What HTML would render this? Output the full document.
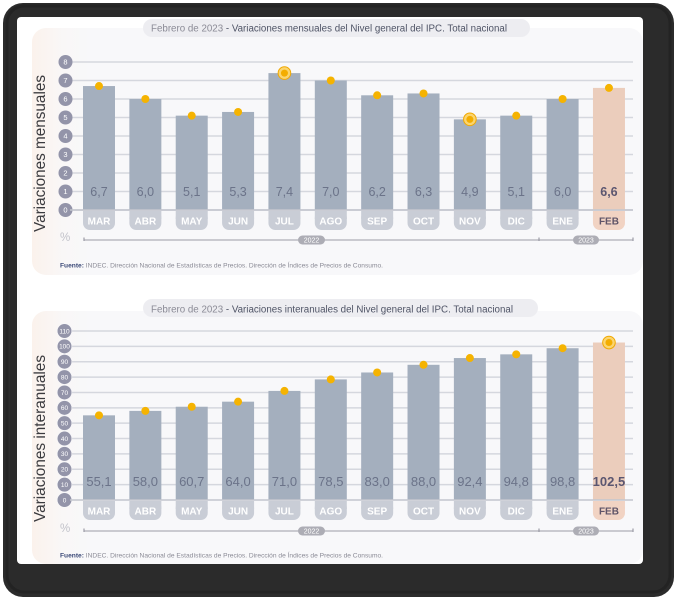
<!DOCTYPE html>
<html><head><meta charset="utf-8">
<style>
html,body{margin:0;padding:0;background:#fff;}
svg{display:block;}
text{font-family:"Liberation Sans",Arial,sans-serif;}
</style></head>
<body>
<svg width="679" height="600" viewBox="0 0 679 600" xmlns="http://www.w3.org/2000/svg">
<defs>
<linearGradient id="pg" x1="0" y1="0" x2="1" y2="0">
<stop offset="0" stop-color="#fbf2ec"/>
<stop offset="0.05" stop-color="#f9f7f7"/>
<stop offset="0.1" stop-color="#f8f8fa"/>
<stop offset="1" stop-color="#f8f8fa"/>
</linearGradient>
</defs>
<!-- frame -->
<rect x="3" y="3" width="671" height="594" rx="20" fill="#2b2b2b"/>
<rect x="7" y="6" width="663" height="586" rx="17" fill="none" stroke="#232323" stroke-width="3"/>
<rect x="17" y="17" width="626" height="547" rx="4" fill="#ffffff"/>

<!-- ===== TOP CHART ===== -->
<rect x="32" y="28" width="611" height="247" rx="14" fill="url(#pg)"/>
<rect x="143" y="19" width="387" height="18" rx="9" fill="#ededf1"/>
<text x="151" y="31.5" font-size="10" textLength="356" lengthAdjust="spacingAndGlyphs"><tspan fill="#8b8b96">Febrero de 2023</tspan><tspan fill="#4f5466"> - Variaciones mensuales del Nivel general del IPC. Total nacional</tspan></text>

<text transform="translate(45,232) rotate(-90)" font-size="15.5" fill="#3a3a3e" textLength="157" lengthAdjust="spacingAndGlyphs">Variaciones mensuales</text>

<g stroke="#d5d7de" stroke-width="1.5">
<line x1="70" y1="62" x2="633" y2="62"/>
<line x1="70" y1="80.5" x2="633" y2="80.5"/>
<line x1="70" y1="99" x2="633" y2="99"/>
<line x1="70" y1="117.5" x2="633" y2="117.5"/>
<line x1="70" y1="136" x2="633" y2="136"/>
<line x1="70" y1="154.5" x2="633" y2="154.5"/>
<line x1="70" y1="173" x2="633" y2="173"/>
<line x1="70" y1="191.5" x2="633" y2="191.5"/>
<line x1="70" y1="210" x2="633" y2="210" stroke="#c3c6ce"/>
</g>
<g fill="#9394a9">
<circle cx="65.5" cy="62" r="7"/><circle cx="65.5" cy="80.5" r="7"/><circle cx="65.5" cy="99" r="7"/>
<circle cx="65.5" cy="117.5" r="7"/><circle cx="65.5" cy="136" r="7"/><circle cx="65.5" cy="154.5" r="7"/>
<circle cx="65.5" cy="173" r="7"/><circle cx="65.5" cy="191.5" r="7"/><circle cx="65.5" cy="210" r="7"/>
</g>
<g fill="#ffffff" font-size="7.5" text-anchor="middle">
<text x="65.5" y="64.7">8</text><text x="65.5" y="83.2">7</text><text x="65.5" y="101.7">6</text>
<text x="65.5" y="120.2">5</text><text x="65.5" y="138.7">4</text><text x="65.5" y="157.2">3</text>
<text x="65.5" y="175.7">2</text><text x="65.5" y="194.2">1</text><text x="65.5" y="212.7">0</text>
</g>

<g fill="#a4afbe">
<rect x="83" y="86.05" width="32" height="123.95"/>
<rect x="129.36" y="99" width="32" height="111"/>
<rect x="175.72" y="115.65" width="32" height="94.35"/>
<rect x="222.08" y="111.95" width="32" height="98.05"/>
<rect x="268.44" y="73.1" width="32" height="136.9"/>
<rect x="314.8" y="80.5" width="32" height="129.5"/>
<rect x="361.16" y="95.3" width="32" height="114.7"/>
<rect x="407.52" y="93.45" width="32" height="116.55"/>
<rect x="453.88" y="119.35" width="32" height="90.65"/>
<rect x="500.24" y="115.65" width="32" height="94.35"/>
<rect x="546.6" y="99" width="32" height="111"/>
</g>
<rect x="592.96" y="87.9" width="32" height="122.1" fill="#ebcdbc"/>
<line x1="70" y1="210" x2="633" y2="210" stroke="#c3c6ce" stroke-width="1.5"/>

<g fill="#f5b301">
<circle cx="99" cy="86.05" r="4"/>
<circle cx="145.36" cy="99" r="4"/>
<circle cx="191.72" cy="115.65" r="4"/>
<circle cx="238.08" cy="111.95" r="4"/>
<circle cx="330.8" cy="80.5" r="4"/>
<circle cx="377.16" cy="95.3" r="4"/>
<circle cx="423.52" cy="93.45" r="4"/>
<circle cx="516.24" cy="115.65" r="4"/>
<circle cx="562.6" cy="99" r="4"/>
<circle cx="608.96" cy="87.9" r="4"/>
</g>
<circle cx="284.44" cy="73.1" r="6.3" fill="#fbd56f" stroke="#f0a800" stroke-width="1"/>
<circle cx="284.44" cy="73.1" r="3.5" fill="#f3ad00"/>
<circle cx="469.88" cy="119.35" r="6.3" fill="#fbd56f" stroke="#f0a800" stroke-width="1"/>
<circle cx="469.88" cy="119.35" r="3.5" fill="#f3ad00"/>

<g font-size="12.5" fill="#6b7389" text-anchor="middle">
<text x="99" y="196">6,7</text><text x="145.36" y="196">6,0</text><text x="191.72" y="196">5,1</text>
<text x="238.08" y="196">5,3</text><text x="284.44" y="196">7,4</text><text x="330.8" y="196">7,0</text>
<text x="377.16" y="196">6,2</text><text x="423.52" y="196">6,3</text><text x="469.88" y="196">4,9</text>
<text x="516.24" y="196">5,1</text><text x="562.6" y="196">6,0</text>
<text x="608.96" y="196" font-weight="bold" fill="#5b5670">6,6</text>
</g>

<g fill="#c9cdd6">
<rect x="83" y="211" width="32" height="19" rx="7"/><rect x="83" y="211" width="32" height="8"/>
<rect x="129.36" y="211" width="32" height="19" rx="7"/><rect x="129.36" y="211" width="32" height="8"/>
<rect x="175.72" y="211" width="32" height="19" rx="7"/><rect x="175.72" y="211" width="32" height="8"/>
<rect x="222.08" y="211" width="32" height="19" rx="7"/><rect x="222.08" y="211" width="32" height="8"/>
<rect x="268.44" y="211" width="32" height="19" rx="7"/><rect x="268.44" y="211" width="32" height="8"/>
<rect x="314.8" y="211" width="32" height="19" rx="7"/><rect x="314.8" y="211" width="32" height="8"/>
<rect x="361.16" y="211" width="32" height="19" rx="7"/><rect x="361.16" y="211" width="32" height="8"/>
<rect x="407.52" y="211" width="32" height="19" rx="7"/><rect x="407.52" y="211" width="32" height="8"/>
<rect x="453.88" y="211" width="32" height="19" rx="7"/><rect x="453.88" y="211" width="32" height="8"/>
<rect x="500.24" y="211" width="32" height="19" rx="7"/><rect x="500.24" y="211" width="32" height="8"/>
<rect x="546.6" y="211" width="32" height="19" rx="7"/><rect x="546.6" y="211" width="32" height="8"/>
</g>
<rect x="592.96" y="211" width="32" height="19" rx="7" fill="#f1d3c3"/><rect x="592.96" y="211" width="32" height="8" fill="#f1d3c3"/>
<g font-size="10" font-weight="bold" fill="#ffffff" text-anchor="middle">
<text x="99" y="224.5">MAR</text><text x="145.36" y="224.5">ABR</text><text x="191.72" y="224.5">MAY</text>
<text x="238.08" y="224.5">JUN</text><text x="284.44" y="224.5">JUL</text><text x="330.8" y="224.5">AGO</text>
<text x="377.16" y="224.5">SEP</text><text x="423.52" y="224.5">OCT</text><text x="469.88" y="224.5">NOV</text>
<text x="516.24" y="224.5">DIC</text><text x="562.6" y="224.5">ENE</text>
<text x="608.96" y="224.5" fill="#5f5468">FEB</text>
</g>

<text x="60" y="241" font-size="11.5" fill="#c2c2ca">%</text>
<line x1="84" y1="240" x2="633" y2="240" stroke="#9c9ca6" stroke-width="1"/>
<g stroke="#9c9ca6" stroke-width="1.2">
<line x1="84" y1="237.5" x2="84" y2="241"/><line x1="539" y1="237.5" x2="539" y2="241"/><line x1="633" y1="237.5" x2="633" y2="241"/>
</g>
<rect x="298" y="235.5" width="27" height="9" rx="4.5" fill="#adadb5"/>
<rect x="573" y="235.5" width="26" height="9" rx="4.5" fill="#adadb5"/>
<g font-size="7" fill="#ffffff" text-anchor="middle">
<text x="311.5" y="242.5">2022</text><text x="586" y="242.5">2023</text>
</g>
<text x="60" y="267.5" font-size="6.5" fill="#8a8a95" textLength="323" lengthAdjust="spacingAndGlyphs"><tspan font-weight="bold" fill="#3c4a78">Fuente:</tspan> INDEC. Dirección Nacional de Estadísticas de Precios. Dirección de Índices de Precios de Consumo.</text>

<!-- ===== BOTTOM CHART ===== -->
<rect x="32" y="311" width="611" height="253" rx="14" fill="url(#pg)"/>
<rect x="143" y="299" width="395" height="18" rx="9" fill="#ededf1"/>
<text x="151" y="312.5" font-size="10" textLength="362" lengthAdjust="spacingAndGlyphs"><tspan fill="#8b8b96">Febrero de 2023</tspan><tspan fill="#4f5466"> - Variaciones interanuales del Nivel general del IPC. Total nacional</tspan></text>

<text transform="translate(45,522) rotate(-90)" font-size="15.5" fill="#3a3a3e" textLength="167" lengthAdjust="spacingAndGlyphs">Variaciones interanuales</text>

<g stroke="#d5d7de" stroke-width="1.5">
<line x1="70" y1="331" x2="633" y2="331"/>
<line x1="70" y1="346.36" x2="633" y2="346.36"/>
<line x1="70" y1="361.73" x2="633" y2="361.73"/>
<line x1="70" y1="377.09" x2="633" y2="377.09"/>
<line x1="70" y1="392.45" x2="633" y2="392.45"/>
<line x1="70" y1="407.82" x2="633" y2="407.82"/>
<line x1="70" y1="423.18" x2="633" y2="423.18"/>
<line x1="70" y1="438.55" x2="633" y2="438.55"/>
<line x1="70" y1="453.91" x2="633" y2="453.91"/>
<line x1="70" y1="469.27" x2="633" y2="469.27"/>
<line x1="70" y1="484.64" x2="633" y2="484.64"/>
</g>
<g fill="#9394a9" stroke="#f8f8fa" stroke-width="0.6">
<circle cx="64.5" cy="331" r="7.3"/><circle cx="64.5" cy="346.36" r="7.3"/><circle cx="64.5" cy="361.73" r="7.3"/>
<circle cx="64.5" cy="377.09" r="7.3"/><circle cx="64.5" cy="392.45" r="7.3"/><circle cx="64.5" cy="407.82" r="7.3"/>
<circle cx="64.5" cy="423.18" r="7.3"/><circle cx="64.5" cy="438.55" r="7.3"/><circle cx="64.5" cy="453.91" r="7.3"/>
<circle cx="64.5" cy="469.27" r="7.3"/><circle cx="64.5" cy="484.64" r="7.3"/><circle cx="64.5" cy="500" r="7.3"/>
</g>
<g fill="#ffffff" font-size="6.5" text-anchor="middle">
<text x="64.5" y="333.3">110</text><text x="64.5" y="348.7">100</text><text x="64.5" y="364">90</text>
<text x="64.5" y="379.4">80</text><text x="64.5" y="394.8">70</text><text x="64.5" y="410.1">60</text>
<text x="64.5" y="425.5">50</text><text x="64.5" y="440.9">40</text><text x="64.5" y="456.2">30</text>
<text x="64.5" y="471.6">20</text><text x="64.5" y="487">10</text><text x="64.5" y="502.3">0</text>
</g>

<g fill="#a4afbe">
<rect x="83" y="415.35" width="32" height="84.65"/>
<rect x="129.36" y="410.89" width="32" height="89.11"/>
<rect x="175.72" y="406.74" width="32" height="93.26"/>
<rect x="222.08" y="401.67" width="32" height="98.33"/>
<rect x="268.44" y="390.92" width="32" height="109.08"/>
<rect x="314.8" y="379.4" width="32" height="120.6"/>
<rect x="361.16" y="372.48" width="32" height="127.52"/>
<rect x="407.52" y="364.8" width="32" height="135.2"/>
<rect x="453.88" y="358.04" width="32" height="141.96"/>
<rect x="500.24" y="354.35" width="32" height="145.65"/>
<rect x="546.6" y="348.21" width="32" height="151.79"/>
</g>
<rect x="592.96" y="342.52" width="32" height="157.48" fill="#ebcdbc"/>
<line x1="70" y1="500" x2="633" y2="500" stroke="#c3c6ce" stroke-width="1.5"/>

<g fill="#f5b301">
<circle cx="99" cy="415.35" r="4"/>
<circle cx="145.36" cy="410.89" r="4"/>
<circle cx="191.72" cy="406.74" r="4"/>
<circle cx="238.08" cy="401.67" r="4"/>
<circle cx="284.44" cy="390.92" r="4"/>
<circle cx="330.8" cy="379.4" r="4"/>
<circle cx="377.16" cy="372.48" r="4"/>
<circle cx="423.52" cy="364.8" r="4"/>
<circle cx="469.88" cy="358.04" r="4"/>
<circle cx="516.24" cy="354.35" r="4"/>
<circle cx="562.6" cy="348.21" r="4"/>
</g>
<circle cx="608.96" cy="342.52" r="6.3" fill="#fbd56f" stroke="#f0a800" stroke-width="1"/>
<circle cx="608.96" cy="342.52" r="3.5" fill="#f3ad00"/>

<g font-size="13" fill="#6b7389" text-anchor="middle">
<text x="99" y="486">55,1</text><text x="145.36" y="486">58,0</text><text x="191.72" y="486">60,7</text>
<text x="238.08" y="486">64,0</text><text x="284.44" y="486">71,0</text><text x="330.8" y="486">78,5</text>
<text x="377.16" y="486">83,0</text><text x="423.52" y="486">88,0</text><text x="469.88" y="486">92,4</text>
<text x="516.24" y="486">94,8</text><text x="562.6" y="486">98,8</text>
<text x="608.96" y="486" font-weight="bold" fill="#5b5670">102,5</text>
</g>

<g fill="#c9cdd6">
<rect x="83" y="501" width="32" height="19" rx="7"/><rect x="83" y="501" width="32" height="8"/>
<rect x="129.36" y="501" width="32" height="19" rx="7"/><rect x="129.36" y="501" width="32" height="8"/>
<rect x="175.72" y="501" width="32" height="19" rx="7"/><rect x="175.72" y="501" width="32" height="8"/>
<rect x="222.08" y="501" width="32" height="19" rx="7"/><rect x="222.08" y="501" width="32" height="8"/>
<rect x="268.44" y="501" width="32" height="19" rx="7"/><rect x="268.44" y="501" width="32" height="8"/>
<rect x="314.8" y="501" width="32" height="19" rx="7"/><rect x="314.8" y="501" width="32" height="8"/>
<rect x="361.16" y="501" width="32" height="19" rx="7"/><rect x="361.16" y="501" width="32" height="8"/>
<rect x="407.52" y="501" width="32" height="19" rx="7"/><rect x="407.52" y="501" width="32" height="8"/>
<rect x="453.88" y="501" width="32" height="19" rx="7"/><rect x="453.88" y="501" width="32" height="8"/>
<rect x="500.24" y="501" width="32" height="19" rx="7"/><rect x="500.24" y="501" width="32" height="8"/>
<rect x="546.6" y="501" width="32" height="19" rx="7"/><rect x="546.6" y="501" width="32" height="8"/>
</g>
<rect x="592.96" y="501" width="32" height="19" rx="7" fill="#f1d3c3"/><rect x="592.96" y="501" width="32" height="8" fill="#f1d3c3"/>
<g font-size="10" font-weight="bold" fill="#ffffff" text-anchor="middle">
<text x="99" y="514.5">MAR</text><text x="145.36" y="514.5">ABR</text><text x="191.72" y="514.5">MAY</text>
<text x="238.08" y="514.5">JUN</text><text x="284.44" y="514.5">JUL</text><text x="330.8" y="514.5">AGO</text>
<text x="377.16" y="514.5">SEP</text><text x="423.52" y="514.5">OCT</text><text x="469.88" y="514.5">NOV</text>
<text x="516.24" y="514.5">DIC</text><text x="562.6" y="514.5">ENE</text>
<text x="608.96" y="514.5" fill="#5f5468">FEB</text>
</g>

<text x="60" y="532" font-size="11.5" fill="#c2c2ca">%</text>
<line x1="84" y1="531" x2="633" y2="531" stroke="#9c9ca6" stroke-width="1"/>
<g stroke="#9c9ca6" stroke-width="1.2">
<line x1="84" y1="528.5" x2="84" y2="532"/><line x1="539" y1="528.5" x2="539" y2="532"/><line x1="633" y1="528.5" x2="633" y2="532"/>
</g>
<rect x="298" y="526.5" width="27" height="9" rx="4.5" fill="#adadb5"/>
<rect x="573" y="526.5" width="26" height="9" rx="4.5" fill="#adadb5"/>
<g font-size="7" fill="#ffffff" text-anchor="middle">
<text x="311.5" y="533.5">2022</text><text x="586" y="533.5">2023</text>
</g>
<text x="60" y="557.5" font-size="6.5" fill="#8a8a95" textLength="323" lengthAdjust="spacingAndGlyphs"><tspan font-weight="bold" fill="#3c4a78">Fuente:</tspan> INDEC. Dirección Nacional de Estadísticas de Precios. Dirección de Índices de Precios de Consumo.</text>
</svg>
</body></html>
